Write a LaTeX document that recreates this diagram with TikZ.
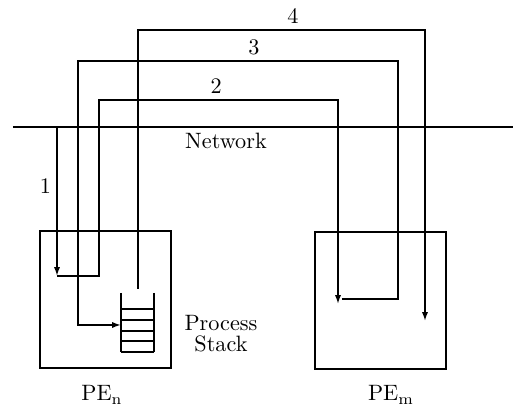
\documentclass[tikz,border=0pt]{standalone}
\usetikzlibrary{arrows.meta,fit}
\begin{document}
\begin{tikzpicture}[x=0.45pt, y=-0.45pt, line width=0.75pt,
    >={Latex[length=4pt,width=2.8pt]},
    pebox/.style={draw, inner sep=0pt}]
            \useasboundingbox (0,0) rectangle (513,408);
            \coordinate (netL) at ( 13,127);
            \coordinate (netR) at (513,127);
            \draw (netL) -- (netR);
            \node (Net)  at (226,141) {Network};
            \node (PEn) [pebox, fit={(40,231) (171,368)}] {};
            \node (PEm) [pebox, fit={(315,232) (446,369)}] {};
            \node (lPEn) at (102,395) {$\mathrm{PE_n}$};
            \node (lPEm) at (391,395) {$\mathrm{PE_m}$};
            \draw (121,293) -- (121,352) (154,293) -- (154,352);
            \foreach \y in {309,320,331,341,352}
              \draw (121,\y) -- (154,\y);
            \coordinate (Stk)  at (121,325);
            \coordinate (StkT) at (138,289);
            \node[align=center] (Proc) at (221,334) {Process\\[-2.5pt]Stack};
            \coordinate (m1) at ( 57,127);
            \coordinate (a1) at ( 57,276);
            \coordinate (a2) at (338,304);
            \coordinate (s3) at (342,299);
            \coordinate (a4) at (425,321);
            \draw[->] (m1) -- node[left=-1pt, pos=0.4] {1} (a1);
            \draw[->] (a1) -- (99,276) -- (99,100) -- node[above=-1pt, pos=0.49] {2} (338,100) -- (a2);
            \draw[->] (s3) -- (398,299) -- (398,61) -- node[above=-1pt, pos=0.45] {3} (78,61) -- (78,325) -- (Stk);
            \draw[->] (StkT) -- (138,30) -- node[above=-1pt, pos=0.54] {4} (425,30) -- (a4);
          \end{tikzpicture}
\end{document}
